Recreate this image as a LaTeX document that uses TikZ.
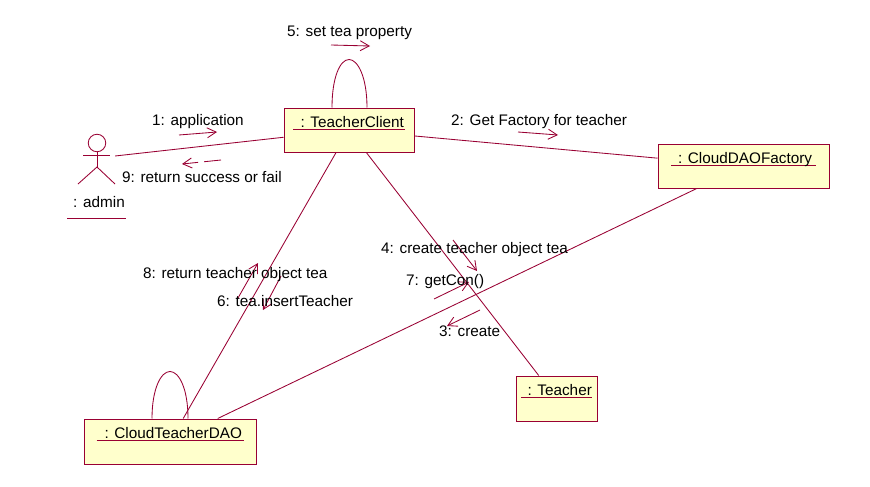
\documentclass[tikz,border=0pt]{standalone}
\usepackage{fontspec}
\setmainfont{Liberation Sans}
\usetikzlibrary{arrows.meta}
\definecolor{rosered}{HTML}{990033}
\definecolor{roseyellow}{HTML}{FFFFCC}
\newcommand{\objname}[4][3pt]{\smash{\raisebox{#1}{\rlap{\textcolor{rosered}{\rule[-2.6pt]{#2}{1pt}}}\makebox[#2][l]{\hspace{#3}#4}}}}
\tikzset{
  x=1pt,y=-1pt,
  txt/.style={font=\fontsize{15.3pt}{17pt}\selectfont,text=black},
  objbox/.style={txt,draw=rosered,fill=roseyellow,line width=1pt,inner sep=0pt,rectangle},
  assoc/.style={draw=rosered,line width=0.85pt},
  msg/.style={draw=rosered,line width=0.85pt,-{Straight Barb[length=9pt,width=10pt,line width=0.85pt]}},
  retmsg/.style={msg,dash pattern=on 17pt off 6pt},
  msglabel/.style={txt,anchor=base west,inner sep=0pt},
  actorpart/.style={draw=rosered,line width=0.85pt}
}
\begin{document}
\begin{tikzpicture}
\useasboundingbox (0,0) rectangle (870,487);
\fill[white] (0,0) rectangle (870,487);
% objects
\node[objbox,minimum width=130pt,minimum height=44pt] (client) at (349,130) {\objname{112pt}{7.5pt}{: TeacherClient}};
\node[objbox,minimum width=171pt,minimum height=44pt] (factory) at (743.5,166) {\objname{145pt}{7pt}{: CloudDAOFactory}};
\node[objbox,minimum width=81pt,minimum height=45pt] (teacher) at (556.5,398.5) {\objname{71pt}{6.5pt}{: Teacher}};
\node[objbox,minimum width=172pt,minimum height=45pt] (dao) at (170,441.5) {\objname{147pt}{8pt}{: CloudTeacherDAO}};
% actor
\node[minimum width=36pt,minimum height=60pt,inner sep=0pt] (actor) at (97,158) {};
\node[circle,draw=rosered,line width=0.85pt,minimum size=17.5pt,inner sep=0pt] (head) at (97,143) {};
\coordinate (hip) at (97,167);
\draw[actorpart] (head.south) -- (hip);
\draw[actorpart] (83,155) -- (110,155);
\draw[actorpart] (78,184) -- (hip) -- (115,184);
\node[msglabel] (adminlabel) at (73,207) {: admin};
\coordinate (ul1) at (67,218);
\coordinate (ul2) at (126,218);
\draw[actorpart] (ul1) -- (ul2);
% associations
\draw[assoc] (actor) -- (client);
\draw[assoc] (client) -- (factory);
\draw[assoc] (client) -- (teacher);
\draw[assoc] (client) -- (dao);
\draw[assoc] (factory) -- (dao);
% self loops
\draw[assoc] ([xshift=-17pt]client.north) .. controls +(0,-30) and +(-9,0) .. ([yshift=48pt]client.north)
  .. controls +(9,0) and +(0,-30) .. ([xshift=18pt]client.north);
\draw[assoc] ([xshift=-18pt]dao.north) .. controls +(0,-30) and +(-9,0) .. ([yshift=47pt]dao.north)
  .. controls +(9,0) and +(0,-30) .. ([xshift=18pt]dao.north);
% message arrows
\coordinate (m1a) at (179,135); \coordinate (m1b) at (217,132);
\coordinate (m9a) at (221,160); \coordinate (m9b) at (182,164);
\coordinate (m2a) at (518,132); \coordinate (m2b) at (558,135);
\coordinate (m5a) at (331,45);  \coordinate (m5b) at (370,46);
\coordinate (m4a) at (453,240); \coordinate (m4b) at (477,271);
\coordinate (m7a) at (434,299); \coordinate (m7b) at (469,282);
\coordinate (m3a) at (480,310); \coordinate (m3b) at (447,326);
\coordinate (m8a) at (238,298); \coordinate (m8b) at (258,263);
\coordinate (m6a) at (281,276); \coordinate (m6b) at (263,310);
\draw[msg] (m1a) -- (m1b);
\draw[retmsg] (m9a) -- (m9b);
\draw[msg] (m2a) -- (m2b);
\draw[msg] (m5a) -- (m5b);
\draw[msg] (m4a) -- (m4b);
\draw[msg] (m7a) -- (m7b);
\draw[msg] (m3a) -- (m3b);
\draw[msg] (m8a) -- (m8b);
\draw[msg] (m6a) -- (m6b);
% message labels
\node[msglabel] (l5) at (287,37) {5: set tea property};
\node[msglabel] (l1) at (152,125) {1: application};
\node[msglabel] (l9) at (122,182) {9: return success or fail};
\node[msglabel] (l2) at (451,125) {2: Get Factory for teacher};
\node[msglabel] (l4) at (381,253) {4: create teacher object tea};
\node[msglabel] (l7) at (406,285) {7: getCon()};
\node[msglabel] (l3) at (439,336) {3: create};
\node[msglabel] (l8) at (143,278) {8: return teacher object tea};
\node[msglabel] (l6) at (217,306) {6: tea.insertTeacher};
\end{tikzpicture}
\end{document}
